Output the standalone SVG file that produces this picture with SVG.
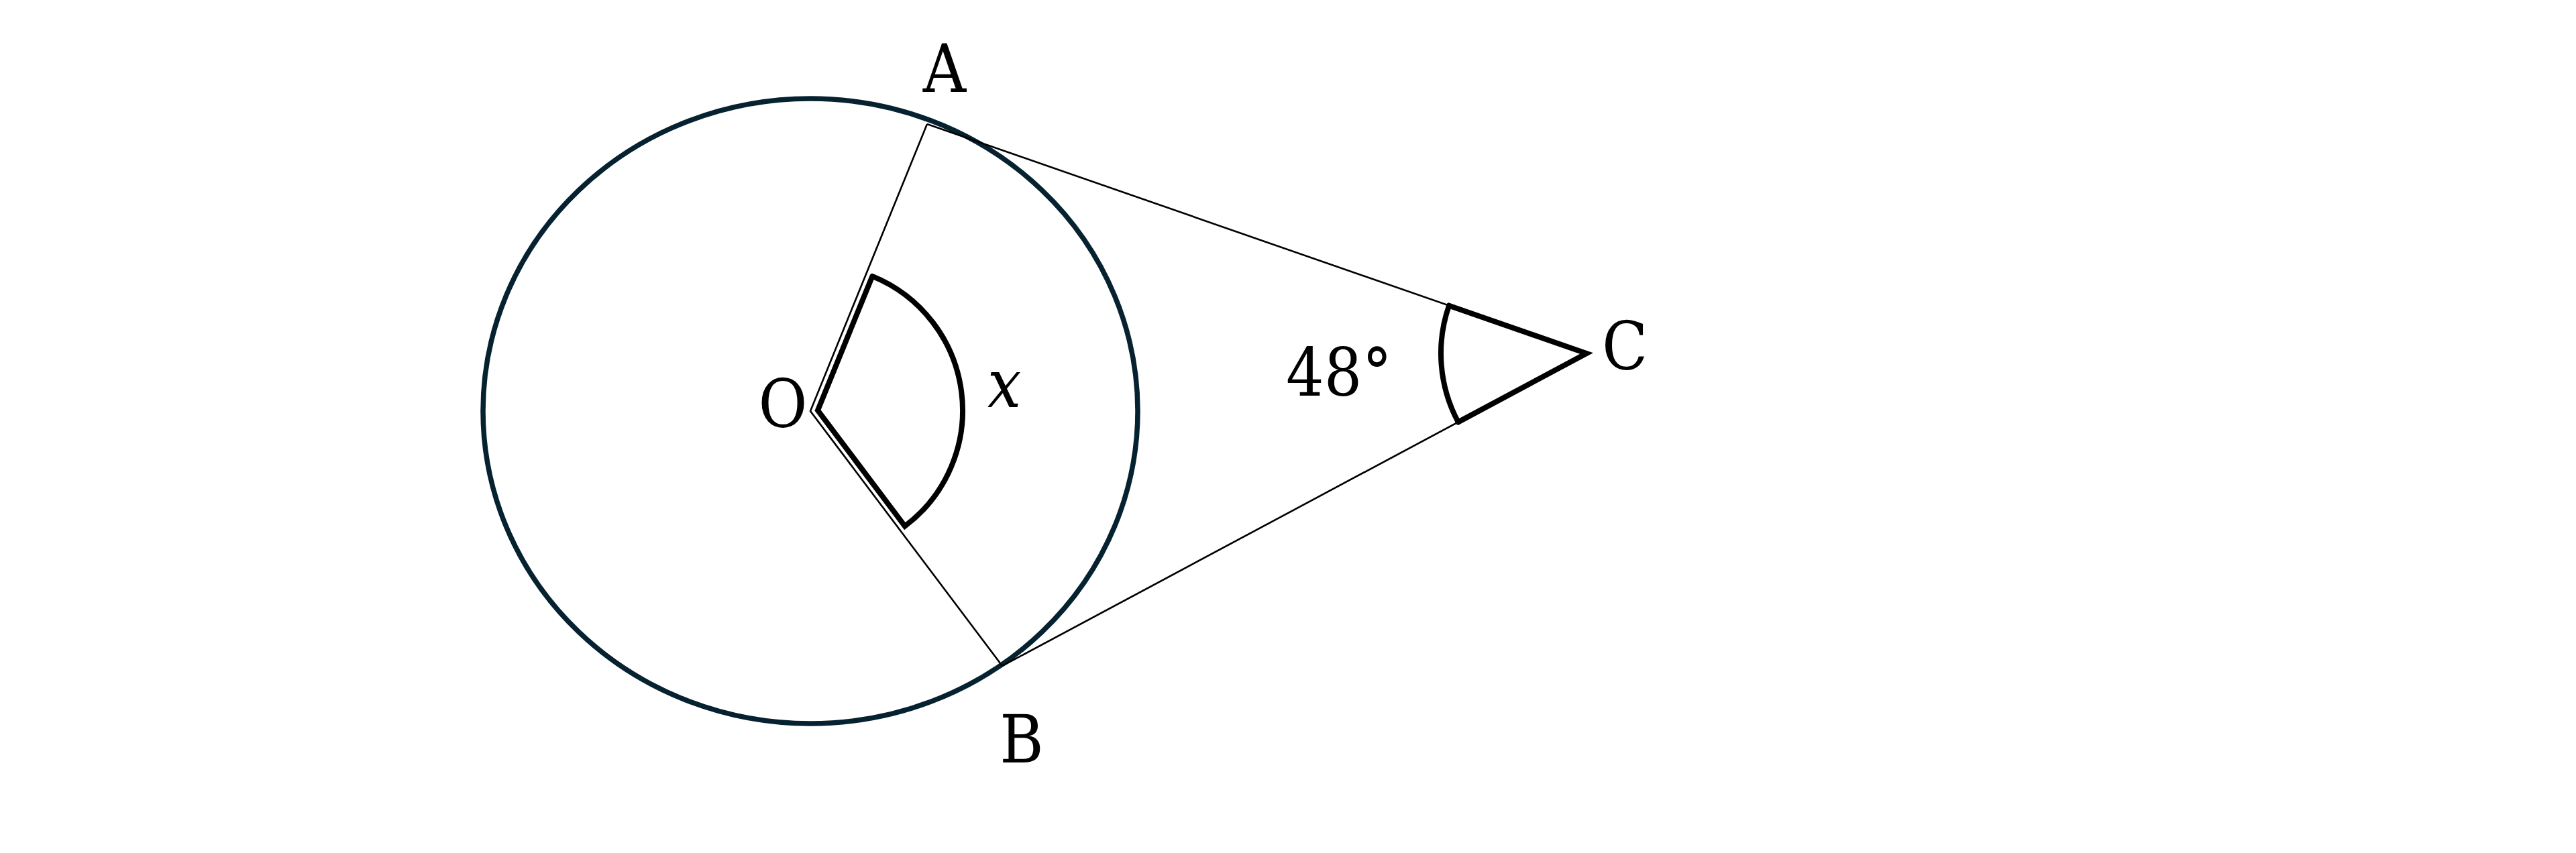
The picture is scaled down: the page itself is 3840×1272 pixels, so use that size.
<svg xmlns="http://www.w3.org/2000/svg" width="3840" height="1272" viewBox="0 0 3840 1272">
<style>
.lbl{font-family:"DejaVu Serif Condensed","DejaVu Serif",serif;font-stretch:condensed;font-size:99px;fill:#000;text-anchor:middle}
.it{font-style:italic}
.thin{fill:none;stroke:#000;stroke-width:2.6;stroke-linejoin:miter;stroke-miterlimit:20}
.thick{fill:none;stroke:#000;stroke-width:8;stroke-linejoin:miter;stroke-linecap:round}
</style>
<rect width="3840" height="1272" fill="#fff"/>
<g id="circle">
<ellipse cx="1208" cy="613" rx="488" ry="466" fill="none" stroke="#06212f" stroke-width="7.5"/>
</g>
<g id="connectors">
<polyline class="thin" points="1382,185 1208,613 1494,993"/>
<line class="thin" x1="1382" y1="185" x2="2365" y2="527"/>
<line class="thin" x1="1494" y1="993" x2="2365" y2="527"/>
</g>
<g id="angle-x">
<path class="thick" d="M1300.3,411.9 L1219,612 L1348.9,784.6 A216,216 0 0 0 1300.3,411.9"/>
</g>
<g id="angle-C">
<path class="thick" d="M2160,455.7 L2365,527 L2173.7,629.4" stroke-width="8.5"/>
<path class="thick" d="M2173.7,629.4 A217,217 0 0 1 2160,455.7" stroke-width="6.5"/>
</g>
<g id="label-A"><text class="lbl" x="1408" y="137">A</text></g>
<g id="label-O"><text class="lbl" x="1167" y="637">O</text></g>
<g id="label-x"><text class="lbl it" x="1497" y="607">x</text></g>
<g id="label-B"><text class="lbl" x="1523" y="1137">B</text></g>
<g id="label-C"><text class="lbl" x="2422" y="551">C</text></g>
<g id="label-48"><text class="lbl" x="1996" y="590">48°</text></g>
</svg>
